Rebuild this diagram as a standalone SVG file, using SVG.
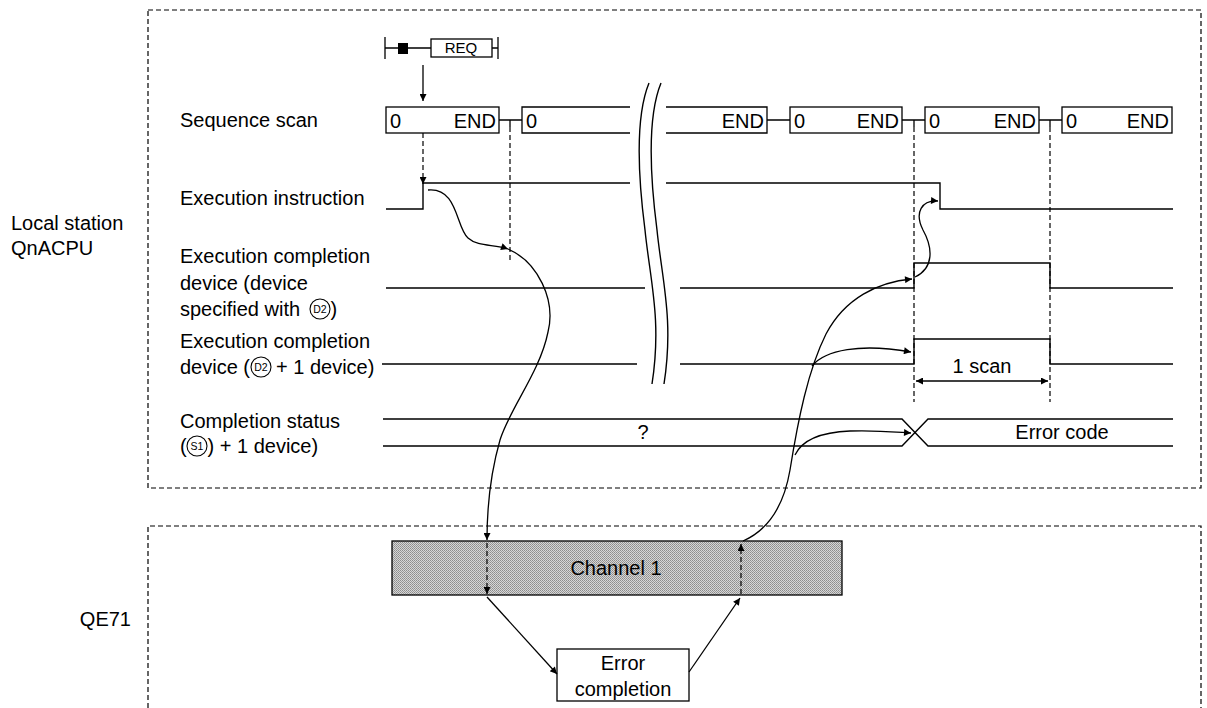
<svg xmlns="http://www.w3.org/2000/svg" width="1207" height="708" viewBox="0 0 1207 708">
<defs>
<style>
text{font-family:"Liberation Sans",Arial,sans-serif;font-size:20px;fill:#000}
.sm{font-size:10.5px}
.req{font-size:15px}
.mid{text-anchor:middle}
.end{text-anchor:end}
.frame{fill:none;stroke:#000;stroke-width:1.2;stroke-dasharray:5 3}
.dash{fill:none;stroke:#000;stroke-width:1.2;stroke-dasharray:5 3}
.sig{fill:none;stroke:#000;stroke-width:1.4}
.box{fill:#fff;stroke:#000;stroke-width:1.3}
.con{fill:none;stroke:#000;stroke-width:1.3}
.brk{fill:none;stroke:#000;stroke-width:1.4}
.circ{fill:none;stroke:#000;stroke-width:1.1}
</style>
<marker id="ah" viewBox="0 0 10 10" refX="10" refY="5" markerWidth="11" markerHeight="7" orient="auto-start-reverse" markerUnits="userSpaceOnUse">
<path d="M0,0 L10,5 L0,10 z" fill="#000"/>
</marker>
<pattern id="stip" width="2" height="2" patternUnits="userSpaceOnUse">
<rect width="2" height="2" fill="#d6d6d6"/>
<rect width="1" height="1" fill="#8c8c8c"/>
<rect x="1" y="1" width="1" height="1" fill="#9a9a9a"/>
</pattern>
</defs>
<rect width="1207" height="708" fill="#fff"/>

<g id="frames">
<rect x="148" y="10" width="1053" height="478" class="frame"/>
<path d="M148,708 V526 H1201 V708" class="frame"/>
</g>

<g id="labels">
<text x="11" y="230">Local station</text>
<text x="11" y="255">QnACPU</text>
<text x="131" y="626" class="end">QE71</text>
<text x="180" y="127">Sequence scan</text>
<text x="180" y="205">Execution instruction</text>
<text x="180" y="263">Execution completion</text>
<text x="180" y="290">device (device</text>
<text x="180" y="316">specified with</text>
<circle cx="320" cy="309" r="10" class="circ"/>
<text x="320" y="313" class="sm mid">D2</text>
<text x="330.5" y="316">)</text>
<text x="180" y="348">Execution completion</text>
<text x="180" y="374">device (</text>
<circle cx="261" cy="367" r="10" class="circ"/>
<text x="261" y="371" class="sm mid">D2</text>
<text x="276" y="374">+ 1 device)</text>
<text x="180" y="428">Completion status</text>
<text x="180" y="453">(</text>
<circle cx="197" cy="446" r="10" class="circ"/>
<text x="197" y="450" class="sm mid">S1</text>
<text x="207.5" y="453">) + 1 device)</text>
</g>

<g id="req">
<path d="M385,37 V59 M498,37 V59 M385,48 H431 M492,48 H498" class="con"/>
<rect x="398" y="43" width="10" height="11" fill="#000"/>
<rect x="431" y="39" width="61" height="18" class="box"/>
<text x="461" y="53" class="req mid">REQ</text>
</g>

<g id="sequence-scan">
<rect x="386" y="107" width="113" height="26" class="box"/>
<text x="390" y="128">0</text><text x="496" y="128" class="end">END</text>
<path d="M630,107 H522 V133 H630 M666,107 H767 V133 H666" class="box"/>
<text x="526" y="128">0</text><text x="764" y="128" class="end">END</text>
<rect x="790" y="107" width="112" height="26" class="box"/>
<text x="794" y="128">0</text><text x="899" y="128" class="end">END</text>
<rect x="925" y="107" width="114" height="26" class="box"/>
<text x="929" y="128">0</text><text x="1036" y="128" class="end">END</text>
<rect x="1062" y="107" width="110" height="26" class="box"/>
<text x="1066" y="128">0</text><text x="1169" y="128" class="end">END</text>
<path d="M499,120 H522 M510,120 V127 M767,120 H790 M902,120 H925 M914,120 V127 M1039,120 H1062 M1050,120 V127" class="con"/>
</g>

<g id="break">
<path d="M649,83 C638,110 636,160 645,230 C650,280 662,320 652,384" class="brk"/>
<path d="M661,83 C650,110 648,160 657,230 C662,280 674,320 664,384" class="brk"/>
</g>

<g id="signals">
<path d="M386,209 H423 V183 H630 M666,183 H940 V209 H1173" class="sig"/>
<path d="M386,288 H645 M680,288 H914 V263 H1050 V288 H1173" class="sig"/>
<path d="M382,364 H637 M680,364 H914 V339 H1050 V364 H1173" class="sig"/>
<path d="M383,419 H902 L928,446 H1173 M383,446 H902 L928,419 H1173" class="sig"/>
<text x="643" y="439" class="mid">?</text>
<text x="1062" y="439" class="mid">Error code</text>
<text x="982" y="373" class="mid">1 scan</text>
</g>

<g id="channel1">
<rect x="392" y="541" width="450" height="54" fill="url(#stip)" stroke="#000" stroke-width="1.3"/>
<text x="616" y="575" class="mid">Channel 1</text>
</g>

<g id="error-completion">
<rect x="557" y="649" width="132" height="52" class="box"/>
<text x="623" y="670" class="mid">Error</text>
<text x="623" y="696" class="mid">completion</text>
</g>

<g id="connectors">
<path d="M423,101 V65" class="con" marker-start="url(#ah)"/>
<path d="M423,133 V184" class="dash" marker-end="url(#ah)"/>
<path d="M510,127 V262" class="dash"/>
<path d="M914,127 V402" class="dash"/>
<path d="M1050,127 V402" class="dash"/>
<path d="M916,381 H1048" class="con" marker-start="url(#ah)" marker-end="url(#ah)"/>
<path d="M428,190 C458,187 456,228 468,238 C478,247 494,244 508,249" class="con" marker-end="url(#ah)"/>
<path d="M508,249 C538,262 556,300 548,332 C540,372 510,408 500,440 C490,475 487,510 487,540" class="con" marker-end="url(#ah)"/>
<path d="M487,543 V594" class="dash" marker-end="url(#ah)"/>
<path d="M487,597 L557,674" class="con" marker-end="url(#ah)"/>
<path d="M689,672 L740,598" class="con" marker-end="url(#ah)"/>
<path d="M741,594 V544" class="dash" marker-end="url(#ah)"/>
<path d="M743,541 C768,530 784,505 790,470 C798,420 808,370 826,334 C845,298 878,282 912,279" class="con" marker-end="url(#ah)"/>
<path d="M915,277 C934,268 933,248 923,230 C914,212 922,200 938,201" class="con" marker-end="url(#ah)"/>
<path d="M812,366 C825,350 860,343 911,352" class="con" marker-end="url(#ah)"/>
<path d="M795,455 C803,438 825,432 850,431 C875,430 895,432 911,433" class="con" marker-end="url(#ah)"/>
</g>
</svg>
